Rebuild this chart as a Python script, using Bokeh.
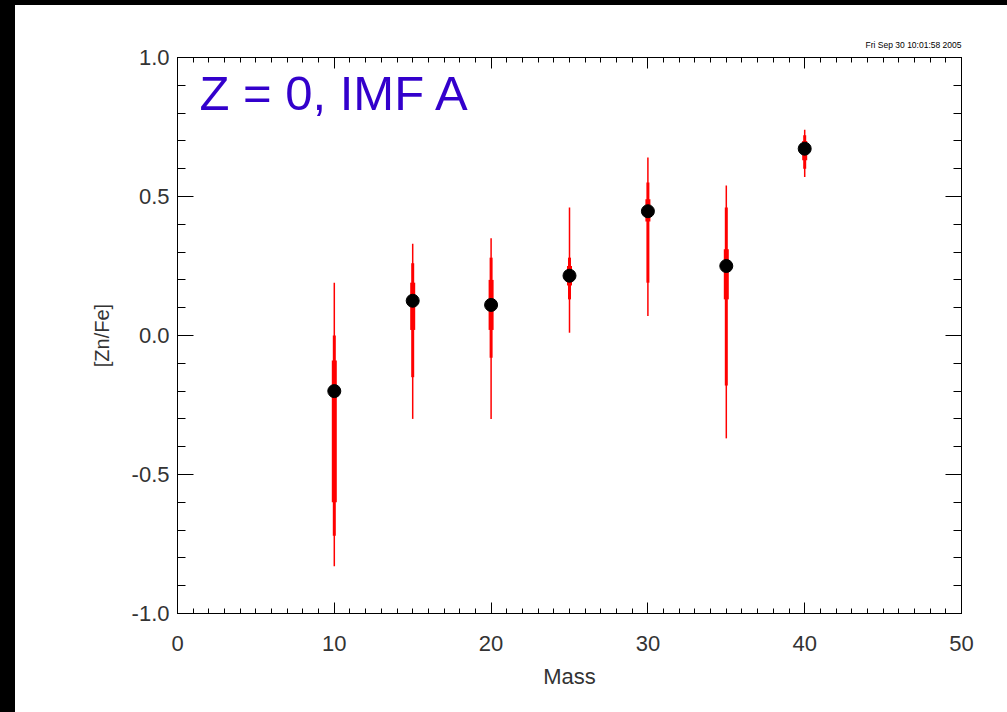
import numpy as np
from bokeh.plotting import figure
from bokeh.models import (FixedTicker, LinearAxis, NumeralTickFormatter, Label, Div,
                          ColumnDataSource, Range1d)
from bokeh.layouts import column, row
from bokeh.embed import file_html
from bokeh.resources import INLINE

# ---- data ----
mass = [10, 15, 20, 25, 30, 35, 40]
zn_fe = [-0.20, 0.125, 0.11, 0.215, 0.447, 0.25, 0.672]
thin_lo = [-0.83, -0.30, -0.30, 0.01, 0.07, -0.37, 0.57]
thin_hi = [0.19, 0.33, 0.35, 0.46, 0.64, 0.54, 0.74]
mid_lo = [-0.72, -0.15, -0.08, 0.13, 0.19, -0.18, 0.60]
mid_hi = [0.00, 0.26, 0.28, 0.28, 0.55, 0.46, 0.72]
thick_lo = [-0.60, 0.02, 0.02, 0.18, 0.41, 0.13, 0.63]
thick_hi = [-0.09, 0.19, 0.20, 0.25, 0.49, 0.31, 0.70]

x_major = [0, 10, 20, 30, 40, 50]
x_minor = list(range(0, 51))
y_major = [-1.0, -0.5, 0.0, 0.5, 1.0]
y_minor = [round(v, 1) for v in np.arange(-1.0, 1.001, 0.1)]

title_text = "Z = 0, IMF A"
stamp_text = "Fri Sep 30 10:01:58 2005"

src = ColumnDataSource(dict(mass=mass, y=zn_fe, tl=thin_lo, th=thin_hi,
                            ml=mid_lo, mh=mid_hi, kl=thick_lo, kh=thick_hi))

FONT = "Liberation Sans"
TXT = "#333333"

p = figure(frame_width=784, frame_height=556,
           min_border_left=162, min_border_right=46, min_border_top=52, min_border_bottom=99,
           x_range=Range1d(0, 50), y_range=Range1d(-1, 1),
           output_backend="svg", toolbar_location=None,
           background_fill_color="white", border_fill_color="white",
           title=stamp_text, title_location="above")
p.grid.visible = False
p.outline_line_color = "black"
p.outline_line_width = 1

p.title.align = "right"
p.title.text_font = FONT
p.title.text_font_size = "8.5px"
p.title.text_font_style = "normal"
p.title.text_color = "black"
p.title.standoff = 16

def style_axis(ax, major, minor, maj_len, min_len, labels=True):
    ax.ticker = FixedTicker(ticks=major, minor_ticks=minor)
    ax.major_tick_in = maj_len
    ax.major_tick_out = 0
    ax.minor_tick_in = min_len
    ax.minor_tick_out = 0
    ax.axis_line_color = "black"
    ax.major_tick_line_color = "black"
    ax.minor_tick_line_color = "black"
    ax.major_label_text_font = FONT
    ax.major_label_text_font_size = "22px"
    ax.major_label_text_color = TXT
    ax.axis_label_text_font = FONT
    ax.axis_label_text_font_size = "22px"
    ax.axis_label_text_font_style = "normal"
    ax.axis_label_text_color = TXT
    if not labels:
        ax.major_label_overrides = {t: "" for t in major}
        ax.major_label_standoff = 0

xb = p.xaxis[0]
style_axis(xb, x_major, x_minor, 11, 5)
xb.major_label_standoff = 22
xb.axis_label = "Mass"
xb.axis_label_standoff = 10

yl = p.yaxis[0]
style_axis(yl, y_major, y_minor, 16, 8)
yl.formatter = NumeralTickFormatter(format="0.0")
yl.major_label_standoff = 8
yl.axis_label = "[Zn/Fe]"
yl.axis_label_text_font_size = "20px"
yl.axis_label_standoff = 16

xt = LinearAxis()
style_axis(xt, x_major, x_minor, 11, 5, labels=False)
p.add_layout(xt, "above")
yr = LinearAxis()
style_axis(yr, y_major, y_minor, 16, 8, labels=False)
p.add_layout(yr, "right")

# error bars
p.segment(x0="mass", y0="tl", x1="mass", y1="th", source=src, line_color="#ff0000", line_width=1.5)
p.segment(x0="mass", y0="ml", x1="mass", y1="mh", source=src, line_color="#ff0000", line_width=3)
p.segment(x0="mass", y0="kl", x1="mass", y1="kh", source=src, line_color="#ff0000", line_width=5)
p.scatter(x="mass", y="y", source=src, size=13, fill_color="black", line_color="black")

p.add_layout(Label(x=0, y=1.0, x_offset=22, y_offset=-35, text=title_text,
                   text_font=FONT, text_font_size="49px", text_color="#3300cc",
                   text_baseline="alphabetic", text_align="left"))

top_bar = Div(text="", width=1007, height=5, margin=0, styles={"background-color": "black"})
left_bar = Div(text="", width=15, height=707, margin=0, styles={"background-color": "black"})
layout = column(top_bar, row(left_bar, p, spacing=0, margin=0), spacing=0, margin=0)

open("out.html", "w").write(file_html(layout, INLINE))
